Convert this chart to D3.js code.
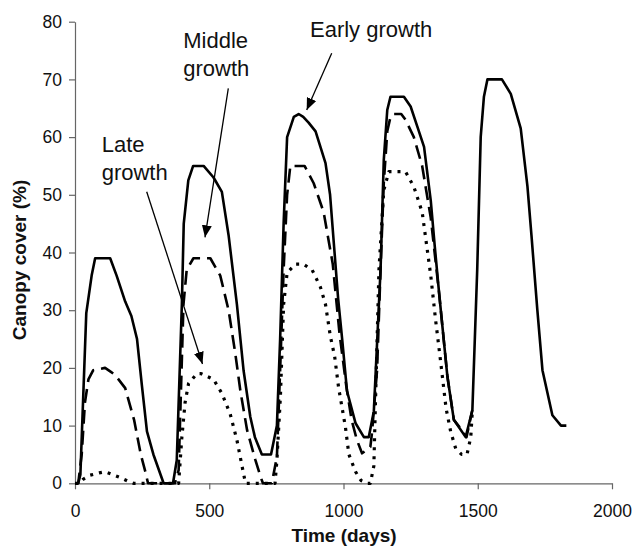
<!DOCTYPE html>
<html>
<head>
<meta charset="utf-8">
<script src="https://cdn.jsdelivr.net/npm/d3@7/dist/d3.min.js"></script>
<style>
  html, body { margin: 0; padding: 0; background: #fff; }
  svg { display: block; font-family: "Liberation Sans", Arial, sans-serif; }
</style>
</head>
<body>
<svg id="chart" width="634" height="554"></svg>
<script>
// Canopy cover (%) over time (days) for three planting times
const earlyGrowth = [
  [0,0],[12,0],[20,1.5],[42,29.5],[62,36],[75,39],[131,39],[155,36],[187,31.5],[210,29],
  [231,25],[249,17],[268,9],[292,5],[330,0],[365,0],[379,4],[398,31],[405,45],[422,52.5],[440,55],
  [479,55],[516,53],[547,50.5],[572,43],[603,31],[628,19.5],[653,11.5],[670,8],[696,5],[730,5],
  [752,10],[764,25],[777,45],[790,60],[815,63.5],[833,64],[850,63.5],[870,62.5],[896,61],[933,55.5],
  [950,50],[965,41],[980,32],[995,25],[1013,16],[1045,10.4],[1076,8],[1094,8],[1113,12.5],[1138,37],
  [1150,56],[1163,64.7],[1175,67],[1225,67],[1250,65.3],[1275,61.8],[1300,58.3],[1325,49],[1340,41],[1356,33],
  [1387,18.5],[1411,11],[1455,8],[1480,12.7],[1498,37],[1511,60],[1523,67],[1536,70],[1590,70],[1623,67.5],
  [1660,61.5],[1685,51.5],[1700,43],[1722,30],[1741,19.6],[1778,11.8],[1810,10],[1830,10]
];
const middleGrowth = [
  [0,0],[12,0],[25,5],[37,14],[50,18],[68,19.6],[112,20],[131,19.4],[149,18.8],[187,16.5],
  [220,11],[245,5],[262,2],[272,0],[372,0],[386,2.3],[404,31],[416,37],[441,39],[504,39],
  [541,36],[572,30],[597,22.5],[616,16],[641,9.2],[672,4],[692,1],[700,0],[733,0],[752,4.6],
  [764,19.6],[777,37],[790,50],[802,55],[855,55],[889,52],[926,47],[960,38],[985,26],[1010,17],
  [1030,11],[1050,7.5],[1069,5.2],[1100,6.3],[1106,8.7],[1125,19.6],[1138,37],[1150,52],[1163,61],[1175,63.5],
  [1188,64],[1215,64],[1231,63],[1262,60],[1293,55],[1325,46],[1356,33],[1387,18.5],[1411,11],[1436,9.5],
  [1458,8],[1480,12.7]
];
const lateGrowth = [
  [0,0],[15,0],[30,0.7],[56,1.4],[90,1.8],[112,2],[140,1.5],[168,1],[200,0.3],[218,0],
  [386,0],[398,8],[410,14],[423,17.3],[454,19],[470,19],[516,18],[547,15.6],[578,12],[603,7.5],
  [622,3],[635,0],[745,0],[752,4],[765,15],[777,31],[790,36.5],[821,38],[850,38],[883,37],
  [914,34],[933,31],[951,25.5],[967,22],[982,16.5],[1007,9.8],[1020,5],[1045,2],[1065,0.5],[1090,0],
  [1100,0],[1113,3],[1119,14],[1132,37],[1150,50.8],[1169,54],[1231,54],[1262,51.4],[1293,47],[1325,36],
  [1343,28.3],[1362,21],[1382,13],[1399,9],[1418,6],[1440,5],[1460,5],[1474,8],[1480,12.7]
];

const xTicks = [0, 500, 1000, 1500, 2000];
const yTicks = [0, 10, 20, 30, 40, 50, 60, 70, 80];

const svg = d3.select("#chart");
const x = d3.scaleLinear().domain([0, 2000]).range([75, 612]);
const y = d3.scaleLinear().domain([0, 80]).range([483.3, 21.7]);

// axes
const xAxis = svg.append("g")
  .attr("transform", `translate(0,${y(0)})`)
  .call(d3.axisBottom(x).tickValues(xTicks).tickSize(6).tickPadding(15)
    .tickSizeOuter(0).tickFormat(d3.format("d")));
const yAxis = svg.append("g")
  .attr("transform", `translate(${x(0)},0)`)
  .call(d3.axisLeft(y).tickValues(yTicks).tickSize(6).tickPadding(7)
    .tickSizeOuter(0).tickFormat(d3.format("d")));
[xAxis, yAxis].forEach(g => {
  g.selectAll("path, line").attr("stroke", "#666").attr("stroke-width", 1.2);
  g.selectAll("text").attr("font-size", 17.5).attr("fill", "#111")
    .attr("font-family", "Liberation Sans, Arial, sans-serif");
});

// axis titles
svg.append("text")
  .attr("x", 344).attr("y", 541.5)
  .attr("text-anchor", "middle")
  .attr("font-size", 19).attr("font-weight", "bold").attr("fill", "#111")
  .text("Time (days)");
svg.append("text")
  .attr("transform", "translate(25.5,260) rotate(-90)")
  .attr("text-anchor", "middle")
  .attr("font-size", 19).attr("font-weight", "bold").attr("fill", "#111")
  .text("Canopy cover (%)");

// series: late (dotted), middle (dashed), early (solid) drawn on top
const line = d3.line().x(d => x(d[0])).y(d => y(d[1]));
const series = [
  { data: lateGrowth, dash: "3,6", width: 3.2 },
  { data: middleGrowth, dash: "14,7", width: 2.6 },
  { data: earlyGrowth, dash: null, width: 2.6 }
];
series.forEach(s => {
  svg.append("path")
    .datum(s.data)
    .attr("d", line)
    .attr("fill", "none")
    .attr("stroke", "#000")
    .attr("stroke-width", s.width)
    .attr("stroke-linejoin", "round")
    .attr("stroke-dasharray", s.dash);
});

// annotation arrows
svg.append("defs").append("marker")
  .attr("id", "head")
  .attr("markerUnits", "userSpaceOnUse")
  .attr("viewBox", "0 0 12 10")
  .attr("refX", 12).attr("refY", 5)
  .attr("markerWidth", 12).attr("markerHeight", 10)
  .attr("orient", "auto")
  .append("path").attr("d", "M0,0 L12,5 L0,10 Z").attr("fill", "#000");

const arrows = [
  [331.7, 53.3, 306.7, 110],
  [228.3, 88.3, 205, 237.3],
  [146.7, 191.7, 202.5, 364]
];
arrows.forEach(a => {
  svg.append("line")
    .attr("x1", a[0]).attr("y1", a[1]).attr("x2", a[2]).attr("y2", a[3])
    .attr("stroke", "#000").attr("stroke-width", 1.3)
    .attr("marker-end", "url(#head)");
});

// annotation labels
const labels = [
  { x: 310, y: 36.7, lines: ["Early growth"] },
  { x: 183.3, y: 48.3, lines: ["Middle", "growth"] },
  { x: 101.7, y: 151.7, lines: ["Late", "growth"] }
];
labels.forEach(l => {
  const t = svg.append("text")
    .attr("x", l.x).attr("y", l.y)
    .attr("font-size", 22).attr("fill", "#111");
  l.lines.forEach((s, i) => {
    t.append("tspan").attr("x", l.x).attr("dy", i === 0 ? 0 : 28).text(s);
  });
});
</script>
</body>
</html>
